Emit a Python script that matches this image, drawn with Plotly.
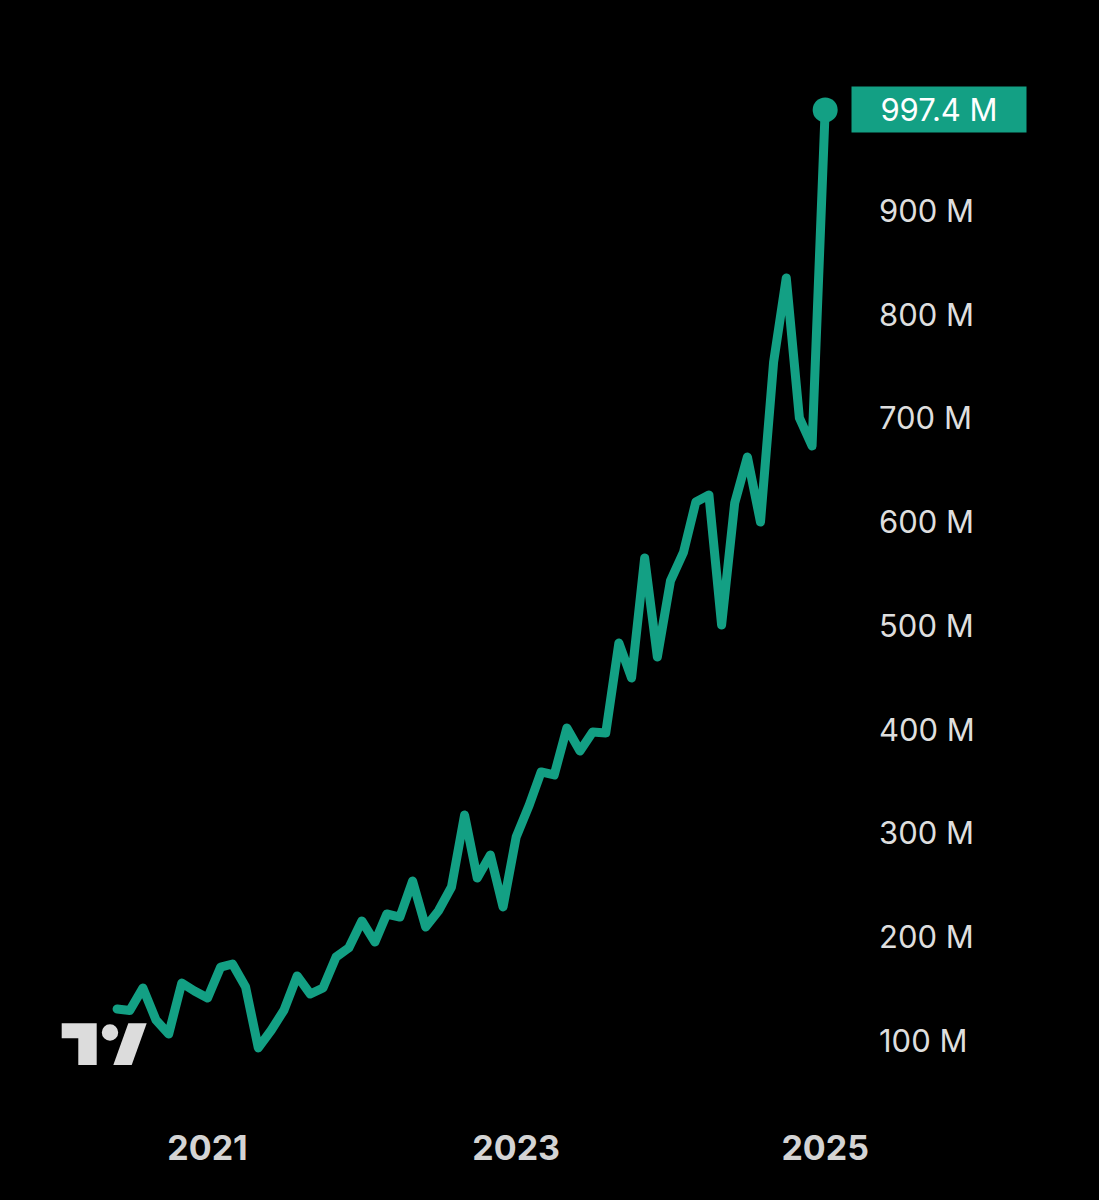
import plotly.graph_objects as go
import pandas as pd

# ---- data (values in millions) ----
start_month = "2020-06-01"
end_month = "2025-01-01"
months = pd.date_range(start_month, end_month, freq="MS").strftime("%Y-%m-%d").tolist()

values = [
    130.8, 129.4, 151.1, 120.2, 106.7, 155.9, 148.2, 141.4, 171.3, 174.2,
    152.0, 93.3, 110.6, 129.9, 162.7, 145.3, 151.1, 181.0, 189.7, 215.7,
    195.4, 222.4, 219.5, 254.2, 209.9, 225.3, 248.4, 317.8, 257.1, 279.3,
    229.2, 296.6, 327.5, 359.3, 356.4, 401.7, 379.5, 397.8, 396.9, 483.6,
    449.9, 565.5, 470.1, 543.4, 571.3, 619.5, 626.3, 501.0, 618.6, 662.9,
    600.2, 754.4, 835.4, 700.5, 673.5, 997.4,
]

y_ticks = [100, 200, 300, 400, 500, 600, 700, 800, 900]
y_tick_labels = [f"{v} M" for v in y_ticks]
x_ticks = ["2021-01-01", "2023-01-01", "2025-01-01"]
x_tick_labels = ["2021", "2023", "2025"]

TEAL = "#13A084"
W, H = 1099, 1200
ML, MR, MT, MB = 0, 251, 40, 90
PW = W - ML - MR
PH = H - MT - MB


def px(x):
    return (x - ML) / PW


def py(y):
    return (H - MB - y) / PH


fig = go.Figure()
fig.add_trace(go.Scatter(
    x=months, y=values, mode="lines",
    line=dict(color=TEAL, width=9),
    hoverinfo="skip",
))
fig.add_trace(go.Scatter(
    x=[months[-1]], y=[values[-1]], mode="markers",
    marker=dict(color=TEAL, size=25, line=dict(width=0)),
    hoverinfo="skip",
))

fig.add_annotation(
    xref="paper", x=1, xanchor="left", xshift=3,
    yref="y", y=values[-1], yanchor="middle",
    text=f"{values[-1]:.1f} M", showarrow=False,
    font=dict(family="Inter", size=31, color="#ffffff"),
    bgcolor=TEAL, borderpad=4, width=166, align="center",
)

# TradingView-style logo (decoration)
logo_color = "#dcdcdc"
t_pts = [(61.7, 1023.3), (96.7, 1023.3), (96.7, 1065), (78.3, 1065), (78.3, 1038.3), (61.7, 1038.3)]
s_pts = [(128.3, 1023.3), (146.7, 1023.3), (131.7, 1065), (113.3, 1065)]


def path(pts):
    return "M" + " L".join(f"{px(a):.5f},{py(b):.5f}" for a, b in pts) + " Z"


fig.add_shape(type="path", xref="paper", yref="paper", path=path(t_pts),
              fillcolor=logo_color, line=dict(width=0))
fig.add_shape(type="path", xref="paper", yref="paper", path=path(s_pts),
              fillcolor=logo_color, line=dict(width=0))
fig.add_shape(type="circle", xref="paper", yref="paper",
              x0=px(101.8), x1=px(118.2), y0=py(1040.7), y1=py(1024.3),
              fillcolor=logo_color, line=dict(width=0))

fig.update_layout(
    width=W, height=H,
    margin=dict(l=ML, r=MR, t=MT, b=MB),
    paper_bgcolor="#000000", plot_bgcolor="#000000",
    showlegend=False,
    xaxis=dict(
        type="date", range=["2019-08-29", "2025-02-24"],
        showgrid=False, zeroline=False, showline=False,
        tickvals=x_ticks, ticktext=x_tick_labels, ticks="",
        tickfont=dict(family="Inter", size=34, color="#d4d4d4", weight=700),
        ticklabelstandoff=15, fixedrange=True,
    ),
    yaxis=dict(
        side="right", range=[33.49, 1064.82],
        showgrid=False, zeroline=False, showline=False,
        tickvals=y_ticks, ticktext=y_tick_labels, ticks="",
        tickfont=dict(family="Inter", size=31, color="#dedede"),
        ticklabelstandoff=30, fixedrange=True,
    ),
)

post = """
document.documentElement.style.margin = '0';
document.documentElement.style.background = '#000';
document.body.style.margin = '0';
document.body.style.padding = '0';
document.body.style.background = '#000';
document.body.style.overflow = 'hidden';
var s = document.createElement('style');
s.innerHTML = 'html,body{margin:0;padding:0;background:#000;} .js-line{stroke-linejoin:round !important;stroke-linecap:round !important;}';
document.head.appendChild(s);
"""
fig.write_html("out.html", config={"displayModeBar": False}, post_script=post)
